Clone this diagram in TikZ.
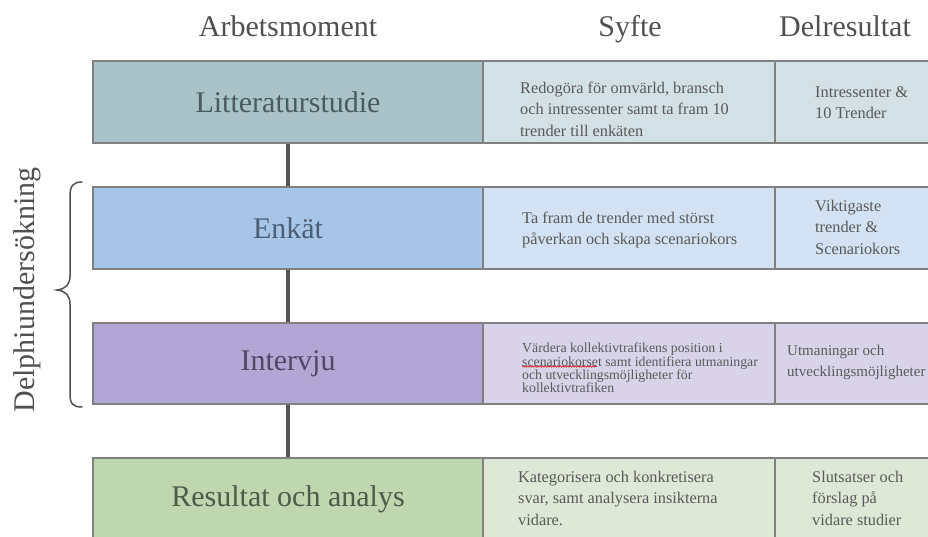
\documentclass[tikz,border=0pt]{standalone}
\usepackage{fontspec}
\setmainfont{Liberation Serif}
\usetikzlibrary{decorations.pathmorphing}

\definecolor{litdark}{HTML}{A9C2C8}
\definecolor{litlight}{HTML}{D3E0E5}
\definecolor{enkdark}{HTML}{A7C5E7}
\definecolor{enklight}{HTML}{D2E2F3}
\definecolor{intdark}{HTML}{B1A6D4}
\definecolor{intlight}{HTML}{D8D3E9}
\definecolor{resdark}{HTML}{BED7AF}
\definecolor{reslight}{HTML}{DDE8D6}
\definecolor{boxline}{HTML}{808080}
\definecolor{linkgray}{HTML}{555555}
\definecolor{bodytext}{HTML}{595959}
\definecolor{headtext}{HTML}{505050}
\definecolor{littext}{HTML}{4B5A5E}
\definecolor{enktext}{HTML}{4D5F77}
\definecolor{inttext}{HTML}{4F4866}
\definecolor{restext}{HTML}{4C5C48}

\begin{document}
\begin{tikzpicture}[x=1pt,y=-1pt,
  stage/.style={draw=boxline, line width=1.2pt, minimum width=390pt,
    minimum height=82pt, inner sep=0pt, font=\fontsize{30}{34}\selectfont},
  aimbox/.style={draw=boxline, line width=1.2pt, minimum width=292pt,
    minimum height=82pt, inner sep=0pt},
  resbox/.style={draw=boxline, line width=1.2pt, minimum width=160pt,
    minimum height=82pt, inner sep=0pt},
  txt/.style={anchor=west, align=left, inner sep=0pt, text=bodytext,
    font=\fontsize{16.3}{21.5}\selectfont},
  link/.style={draw=linkgray, line width=4pt},
  head/.style={font=\fontsize{30}{34}\selectfont, text=headtext, inner sep=0pt},
  bracket/.style={draw=headtext, line width=1.5pt, line cap=round}]

\useasboundingbox (0,0) rectangle (928,537);
\clip (0,0) rectangle (928,537);

% column headings, sharing one baseline
\node[head, anchor=base] (h1) at (288,37) {Arbetsmoment};
\node[head, anchor=base] (h2) at (630,37) {Syfte};
\node[head, anchor=base] (h3) at (845,37) {Delresultat};

% row 1: literature study
\node[stage, fill=litdark, text=littext] (lit) at (288,102) {Litteraturstudie};
\node[aimbox, fill=litlight] (litaim) at (629,102) {};
\node[resbox, fill=litlight] (litres) at (855,102) {};

% row 2: survey
\node[stage, fill=enkdark, text=enktext] (enk) at (288,228) {Enkät};
\node[aimbox, fill=enklight] (enkaim) at (629,228) {};
\node[resbox, fill=enklight] (enkres) at (855,228) {};

% row 3: interviews
\node[stage, fill=intdark, text=inttext, minimum height=81pt] (int) at (288,363.5) {Intervju};
\node[aimbox, fill=intlight, minimum height=81pt] (intaim) at (629,363.5) {};
\node[resbox, fill=intlight, minimum height=81pt] (intres) at (855,363.5) {};

% row 4: results
\node[stage, fill=resdark, text=restext] (res) at (288,499) {Resultat och analys};
\node[aimbox, fill=reslight] (resaim) at (629,499) {};
\node[resbox, fill=reslight] (resres) at (855,499) {};

% connectors between the stages
\draw[link] (lit.south) -- (enk.north);
\draw[link] (enk.south) -- (int.north);
\draw[link] (int.south) -- (res.north);

% purpose and outcome texts
\node[txt] (litaimtxt) at (520,109) {Redogöra för omvärld, bransch\\och intressenter samt ta fram 10\\trender till enkäten};
\node[txt] (litrestxt) at (815,102.5) {Intressenter \&\\10 Trender};
\node[txt] (enkaimtxt) at (522,230) {Ta fram de trender med störst\\påverkan och skapa scenariokors};
\node[txt] (enkrestxt) at (815,227) {Viktigaste\\trender \&\\Scenariokors};
\node[txt, font=\fontsize{13.8}{13.4}\selectfont] (intaimtxt) at (522,368) {Värdera kollektivtrafikens position i\\scenariokorset samt identifiera utmaningar\\och utvecklingsmöjligheter för\\kollektivtrafiken};
\node[txt, font=\fontsize{15}{21}\selectfont] (intrestxt) at (787,362.5) {Utmaningar och\\utvecklingsmöjligheter};
\node[txt] (resaimtxt) at (518,498) {Kategorisera och konkretisera\\svar, samt analysera insikterna\\vidare.};
\node[txt] (resrestxt) at (812,498) {Slutsatser och\\förslag på\\vidare studier};

% spell-check squiggle
\draw[red!85!black, line width=0.5pt, decorate,
  decoration={snake, amplitude=0.7pt, segment length=2.5pt}] (522,366.5) -- (597,366.5);

% brace grouping survey and interviews
\draw[bracket] (82,182) .. controls (73,182) and (70,186) .. (70,196) -- (70,276)
  .. controls (70,284) and (66,289) .. (57,290)
  .. controls (66,291) and (70,296) .. (70,304) -- (70,394)
  .. controls (70,404) and (73,407) .. (82,407);
\node[head, rotate=90] (delphi) at (27,290) {Delphiundersökning};

\end{tikzpicture}
\end{document}
